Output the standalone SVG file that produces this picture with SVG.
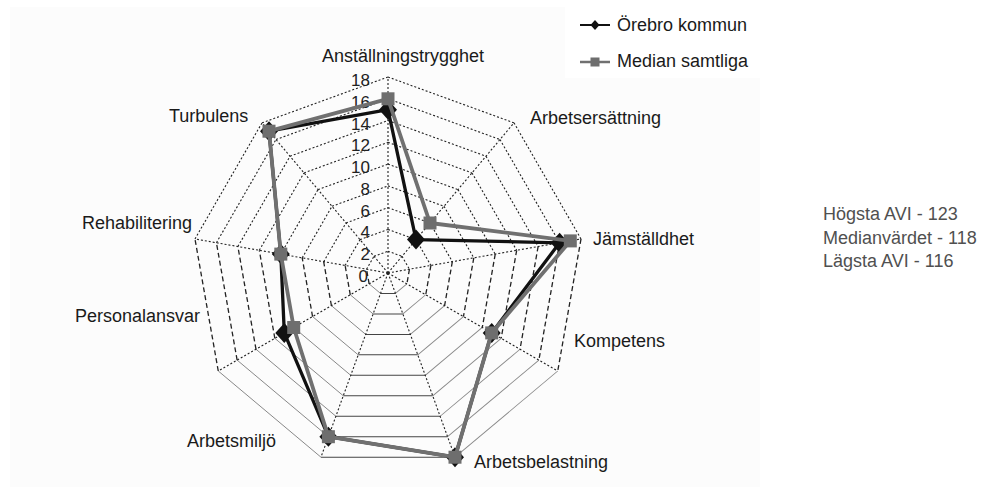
<svg xmlns="http://www.w3.org/2000/svg" width="996" height="493" viewBox="0 0 996 493">
<style>
.lbl{font-family:"Liberation Sans",Arial,sans-serif;font-size:18px;fill:#1a1a1a}
.tick{font-family:"Liberation Sans",Arial,sans-serif;font-size:17px;fill:#222;text-anchor:end}
.info{font-family:"Liberation Sans",Arial,sans-serif;font-size:18px;fill:#505050}
.dot{fill:none;stroke:#222;stroke-width:1.1;stroke-dasharray:2 2}
.dash{fill:none;stroke:#222;stroke-width:1.3;stroke-dasharray:5 3}
.solg{fill:none;stroke:#888;stroke-width:0.9}
.sold{fill:none;stroke:#444;stroke-width:1}
.ser-b{fill:none;stroke:#111;stroke-width:3.3;stroke-linejoin:round}
.ser-g{fill:none;stroke:#707070;stroke-width:3.8;stroke-linejoin:round}
.mk-b{fill:#111}
.mk-g{fill:#6e6e6e}
</style>
<defs>
<g id="sec">
<line x1="0" y1="-21.78" x2="14.00" y2="-16.68"/>
<line x1="0" y1="-43.56" x2="28.00" y2="-33.37"/>
<line x1="0" y1="-65.33" x2="41.99" y2="-50.05"/>
<line x1="0" y1="-87.11" x2="55.99" y2="-66.73"/>
<line x1="0" y1="-108.89" x2="69.99" y2="-83.41"/>
<line x1="0" y1="-130.67" x2="83.99" y2="-100.10"/>
<line x1="0" y1="-152.44" x2="97.99" y2="-116.78"/>
<line x1="0" y1="-174.22" x2="111.99" y2="-133.46"/>
<line x1="0" y1="-196" x2="125.99" y2="-150.14"/>
</g>
<line id="spoke" x1="0" y1="0" x2="0" y2="-196"/>
<path id="dia" d="M0,-10 L9,0 L0,10 L-9,0Z"/>
<rect id="sq" x="-6.5" y="-6.5" width="13" height="13"/>
<path id="dia-s" d="M0,-5 L4.5,0 L0,5 L-4.5,0Z"/>
<rect id="sq-s" x="-4.5" y="-4.5" width="9" height="9"/>
</defs>

<rect x="0" y="0" width="996" height="493" fill="#ffffff"/>
<rect x="10" y="7" width="750" height="480" fill="#fcfcfc"/>
<rect x="565" y="0" width="205" height="78" fill="#ffffff"/>

<g id="grid">
<g transform="translate(388 273)">
<use href="#sec" class="dot" transform="rotate(0)"/>
<use href="#sec" class="dot" transform="rotate(40)"/>
<use href="#sec" class="dash" transform="rotate(80)"/>
<use href="#sec" class="solg" transform="rotate(120)"/>
<use href="#sec" class="sold" transform="rotate(160)"/>
<use href="#sec" class="solg" transform="rotate(200)"/>
<use href="#sec" class="dash" transform="rotate(240)"/>
<use href="#sec" class="dot" transform="rotate(280)"/>
<use href="#sec" class="dot" transform="rotate(320)"/>
<use href="#spoke" class="dot" transform="rotate(0)"/>
<use href="#spoke" class="dot" transform="rotate(40)"/>
<use href="#spoke" class="dot" transform="rotate(80)"/>
<use href="#spoke" class="dot" transform="rotate(120)"/>
<use href="#spoke" class="dot" transform="rotate(160)"/>
<use href="#spoke" class="dot" transform="rotate(200)"/>
<use href="#spoke" class="dot" transform="rotate(240)"/>
<use href="#spoke" class="dot" transform="rotate(280)"/>
<use href="#spoke" class="dot" transform="rotate(320)"/>
</g>
</g>

<g id="ticks">
<text class="tick" x="368" y="282">0</text>
<text class="tick" x="370" y="260">2</text>
<text class="tick" x="370" y="238.4">4</text>
<text class="tick" x="370" y="216.7">6</text>
<text class="tick" x="370" y="194.9">8</text>
<text class="tick" x="370" y="173.1">10</text>
<text class="tick" x="370" y="151.3">12</text>
<text class="tick" x="370" y="129.6">14</text>
<text class="tick" x="370" y="107.8">16</text>
<text class="tick" x="370" y="86">18</text>
</g>

<g id="connectors">
<polygon id="series-orebro" class="ser-b" points="388,109.7 416,239.6 559.6,242.8 491.7,332.9 455,457.2 328.4,436.7 284.3,332.9 280.8,254.1 269,131.2"/>
<g id="markers-orebro" class="mk-b">
<use href="#dia" x="388" y="109.7"/>
<use href="#dia" x="416" y="239.6"/>
<use href="#dia" x="559.6" y="242.8"/>
<use href="#dia" x="491.7" y="332.9"/>
<use href="#dia" x="455" y="457.2"/>
<use href="#dia" x="328.4" y="436.7"/>
<use href="#dia" x="284.3" y="332.9"/>
<use href="#dia" x="280.8" y="254.1"/>
<use href="#dia" x="269" y="131.2"/>
</g>
<polygon id="series-median" class="ser-g" points="388,98.8 430,223 570.3,240.9 491.7,332.9 455,457.2 328.4,436.7 293.7,327.5 280.8,254.1 269,131.2"/>
<g id="markers-median" class="mk-g">
<use href="#sq" x="388" y="98.8"/>
<use href="#sq" x="430" y="223"/>
<use href="#sq" x="570.3" y="240.9"/>
<use href="#sq" x="491.7" y="332.9"/>
<use href="#sq" x="455" y="457.2"/>
<use href="#sq" x="328.4" y="436.7"/>
<use href="#sq" x="293.7" y="327.5"/>
<use href="#sq" x="280.8" y="254.1"/>
<use href="#sq" x="269" y="131.2"/>
</g>
</g>

<g id="axis-anstallningstrygghet"><text class="lbl" x="322" y="62">Anställningstrygghet</text></g>
<g id="axis-arbetsersattning"><text class="lbl" x="530" y="124">Arbetsersättning</text></g>
<g id="axis-jamstalldhet"><text class="lbl" x="593" y="245">Jämställdhet</text></g>
<g id="axis-kompetens"><text class="lbl" x="574" y="347">Kompetens</text></g>
<g id="axis-arbetsbelastning"><text class="lbl" x="474" y="468">Arbetsbelastning</text></g>
<g id="axis-arbetsmiljo"><text class="lbl" x="187" y="447">Arbetsmiljö</text></g>
<g id="axis-personalansvar"><text class="lbl" x="75" y="322">Personalansvar</text></g>
<g id="axis-rehabilitering"><text class="lbl" x="82" y="229">Rehabilitering</text></g>
<g id="axis-turbulens"><text class="lbl" x="169" y="122">Turbulens</text></g>

<g id="legend">
<line x1="580" y1="25" x2="610" y2="25" stroke="#111" stroke-width="2"/>
<use href="#dia-s" x="595" y="25" class="mk-b"/>
<text class="lbl" x="617" y="31">Örebro kommun</text>
<line x1="580" y1="62" x2="610" y2="62" stroke="#707070" stroke-width="2.5"/>
<use href="#sq-s" x="595" y="62" class="mk-g"/>
<text class="lbl" x="617" y="67">Median samtliga</text>
</g>

<g id="info">
<text class="info" x="823" y="220">Högsta AVI - 123</text>
<text class="info" x="823" y="243.5">Medianvärdet - 118</text>
<text class="info" x="823" y="267">Lägsta AVI - 116</text>
</g>
</svg>
